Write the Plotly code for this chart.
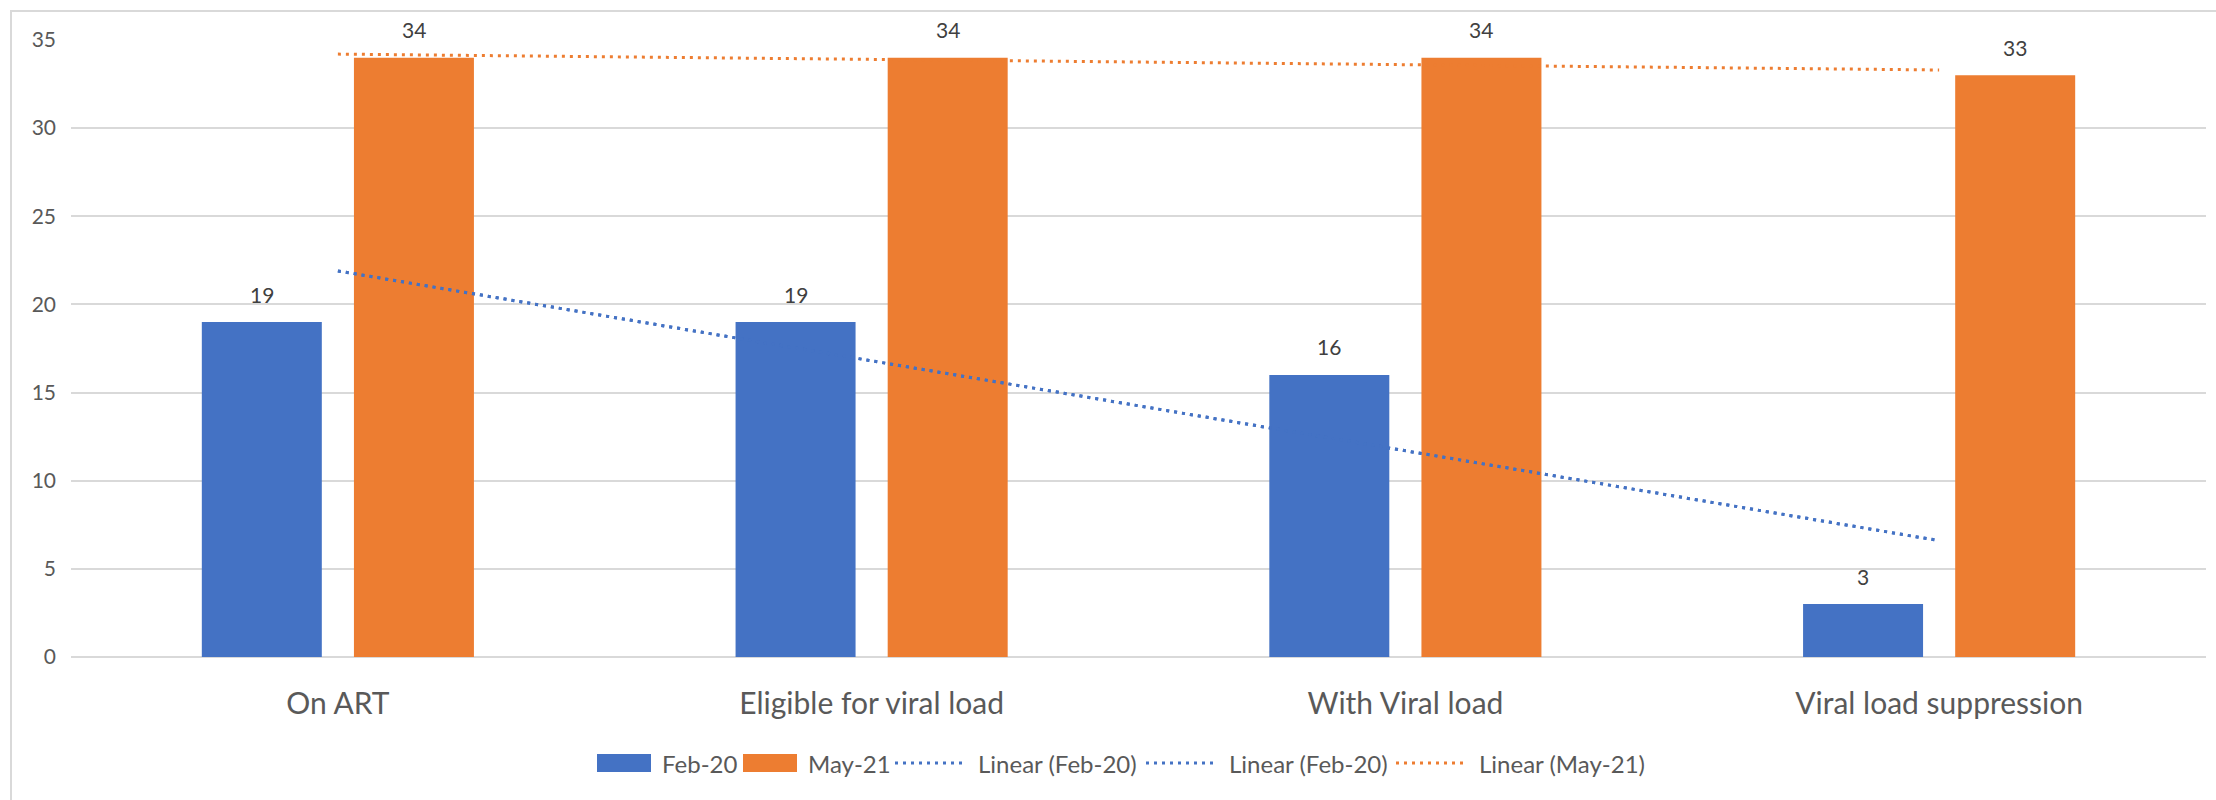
import numpy as np
import plotly.graph_objects as go

# Data
categories = ["On ART", "Eligible for viral load", "With Viral load", "Viral load suppression"]
feb_20 = [19, 19, 16, 3]
may_21 = [34, 34, 34, 33]
y_ticks = [0, 5, 10, 15, 20, 25, 30, 35]
series_names = ["Feb-20", "May-21"]
trend_names = ["Linear (Feb-20)", "Linear (Feb-20)", "Linear (May-21)"]

BLUE = "#4472C4"
ORANGE = "#ED7D31"
TEXT = "#595959"
LABEL = "#404040"
GRID = "#D9D9D9"
FONT = "Lato"

# Plot-area geometry in pixels
W, H = 2216, 800
L, R, T, B = 71, 10, 40, 143
PW, PH = W - L - R, H - T - B

idx = np.arange(len(categories))


def linear_trend(values):
    slope, intercept = np.polyfit(idx, values, 1)
    return slope * idx + intercept


def px_x(p):
    return (p - L) / PW


def px_y(p):
    return (H - B - p) / PH


BAR_W = 0.2248
BAR_SHIFT = 0.1425

fig = go.Figure()
for values, name, color, shift in ((feb_20, series_names[0], BLUE, -BAR_SHIFT),
                                   (may_21, series_names[1], ORANGE, BAR_SHIFT)):
    fig.add_trace(go.Bar(x=idx, y=values, name=name, marker_color=color,
                         marker_line_width=0, width=BAR_W,
                         offset=shift - BAR_W / 2, showlegend=False))

DOT = "3px,5px"
trend_sources = [(feb_20, BLUE), (feb_20, BLUE), (may_21, ORANGE)]
for (values, color), name in zip(trend_sources, trend_names):
    fig.add_trace(go.Scatter(x=idx, y=linear_trend(values), mode="lines", name=name,
                             line=dict(color=color, width=3, dash=DOT),
                             showlegend=False))

# Value labels above each bar
for series, shift in ((feb_20, -BAR_SHIFT), (may_21, BAR_SHIFT)):
    for i, v in zip(idx, series):
        fig.add_annotation(x=i + shift, y=v, text=str(v), showarrow=False,
                           yshift=28, font=dict(family=FONT, size=21, color=LABEL))

# Outer chart frame
fig.add_shape(type="rect", xref="paper", yref="paper",
              x0=px_x(11), x1=px_x(2250), y0=px_y(11), y1=px_y(830),
              line=dict(color=GRID, width=2), fillcolor="rgba(0,0,0,0)", layer="below")

# Legend row below the axis
LEG_Y = 763
legend_items = [
    ("box", BLUE, 597, 651, series_names[0], 660),
    ("box", ORANGE, 743, 797, series_names[1], 806),
    ("dot", BLUE, 895, 963, trend_names[0], 976),
    ("dot", BLUE, 1146, 1213, trend_names[1], 1227),
    ("dot", ORANGE, 1396, 1463, trend_names[2], 1477),
]
for kind, color, x0, x1, label, tx in legend_items:
    if kind == "box":
        fig.add_shape(type="rect", xref="paper", yref="paper",
                      x0=px_x(x0), x1=px_x(x1), y0=px_y(LEG_Y + 9), y1=px_y(LEG_Y - 9),
                      fillcolor=color, line_width=0)
    else:
        fig.add_shape(type="line", xref="paper", yref="paper",
                      x0=px_x(x0), x1=px_x(x1), y0=px_y(LEG_Y), y1=px_y(LEG_Y),
                      line=dict(color=color, width=3, dash=DOT))
    fig.add_annotation(xref="paper", yref="paper", x=px_x(tx), y=px_y(LEG_Y),
                       xanchor="left", yanchor="middle", text=label, showarrow=False,
                       font=dict(family=FONT, size=24, color=TEXT))

fig.update_layout(
    width=W, height=H,
    margin=dict(l=L, r=R, t=T, b=B, pad=0),
    paper_bgcolor="white", plot_bgcolor="white",
    barmode="overlay",
    font=dict(family=FONT, color=TEXT),
    showlegend=False,
    xaxis=dict(range=[-0.5, len(categories) - 0.5], tickvals=idx, ticktext=categories,
               showgrid=False, zeroline=False, showline=False, ticks="",
               tickfont=dict(family=FONT, size=30, color=TEXT),
               ticklabelstandoff=26),
    yaxis=dict(range=[0, 35], tickvals=y_ticks, showgrid=True, gridcolor=GRID,
               gridwidth=2, zeroline=True, zerolinecolor=GRID, zerolinewidth=2,
               showline=False, ticks="",
               tickfont=dict(family=FONT, size=21, color=TEXT),
               ticklabelstandoff=14),
)

fig.write_html("out.html")
